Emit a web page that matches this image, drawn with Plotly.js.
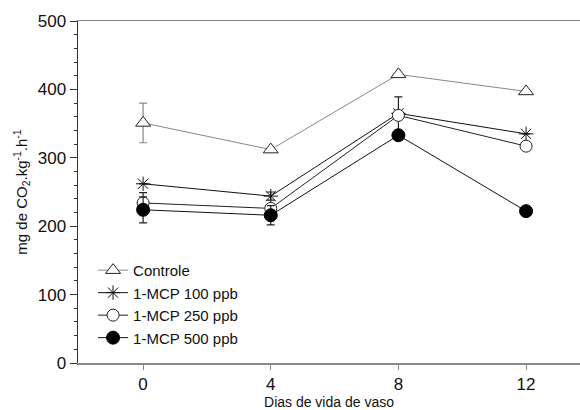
<!DOCTYPE html>
<html>
<head>
<meta charset="utf-8">
<script src="https://cdn.plot.ly/plotly-3.0.1.min.js"></script>
<style>html,body{margin:0;padding:0;background:#fff;}#chart{width:580px;height:410px;}</style>
</head>
<body>
<div id="chart"></div>
<script>
const days = [0, 4, 8, 12];
const controle = [351, 312, 422, 397];
const controleErr = [29, null, null, null];
const mcp100 = [262, 244, 365, 335];
const mcp100Err = [null, 6, null, null];
const mcp250 = [234, 226, 362, 317];
const mcp250Err = [15, 6, 27, null];
const mcp500 = [224, 216, 333, 222];
const mcp500Err = [19, 14, null, null];
const names = ['Controle', '1-MCP 100 ppb', '1-MCP 250 ppb', '1-MCP 500 ppb'];
const xTicks = [0, 4, 8, 12];
const yTicks = [0, 100, 200, 300, 400, 500];

function tr(y, err, name, sym, lineCol, mcol, fill, size) {
  return {
    x: days, y: y, name: name, type: 'scatter', mode: 'lines+markers',
    line: {color: lineCol, width: 1},
    marker: {symbol: sym, size: size, color: fill, line: {color: mcol, width: 1}},
    error_y: {type: 'data', array: err, visible: true, color: lineCol === '#888' ? '#888' : '#222', thickness: 1.2, width: 4}
  };
}
const data = [
  tr(controle, controleErr, names[0], 'triangle-up', '#888', '#222', '#fff', 13),
  tr(mcp100, mcp100Err, names[1], 'asterisk-open', '#111', '#111', '#111', 12),
  tr(mcp250, mcp250Err, names[2], 'circle', '#222', '#222', '#fff', 12),
  tr(mcp500, mcp500Err, names[3], 'circle', '#111', '#000', '#000', 13)
];
const layout = {
  width: 580, height: 410,
  margin: {l: 78, r: 0, t: 21, b: 47},
  paper_bgcolor: '#fff', plot_bgcolor: '#fff',
  font: {family: 'Liberation Sans, Arial, sans-serif', color: '#111', size: 16},
  showlegend: true,
  legend: {x: 0.03, y: 0.319, xanchor: 'left', yanchor: 'top', bgcolor: 'rgba(0,0,0,0)',
           font: {size: 15, color: '#111'}, tracegroupgap: 0, itemwidth: 30},
  xaxis: {
    range: [-2.04, 13.69], tickvals: xTicks, ticktext: xTicks.map(String),
    showgrid: false, zeroline: false, showline: true, linecolor: '#888', linewidth: 1.5,
    mirror: true, ticks: 'outside', ticklen: 5, tickcolor: '#888', tickwidth: 1,
    tickfont: {size: 17},
    title: {text: 'Dias de vida de vaso', font: {size: 14}, standoff: 6}
  },
  yaxis: {
    range: [0, 500], tickvals: yTicks, ticktext: yTicks.map(String),
    showgrid: false, zeroline: false, showline: true, linecolor: '#333', linewidth: 1.5,
    mirror: true, ticks: 'outside', ticklen: 7, tickcolor: '#333', tickwidth: 1,
    minor: {dtick: 20, ticks: 'outside', ticklen: 3, tickcolor: '#333', showgrid: false},
    tickfont: {size: 17},
    title: {text: 'mg de CO<sub>2</sub>.kg<sup>-1</sup>.h<sup>-1</sup>', font: {size: 15}, standoff: 6}
  }
};
Plotly.newPlot('chart', data, layout, {displayModeBar: false, staticPlot: true});
</script>
</body>
</html>
